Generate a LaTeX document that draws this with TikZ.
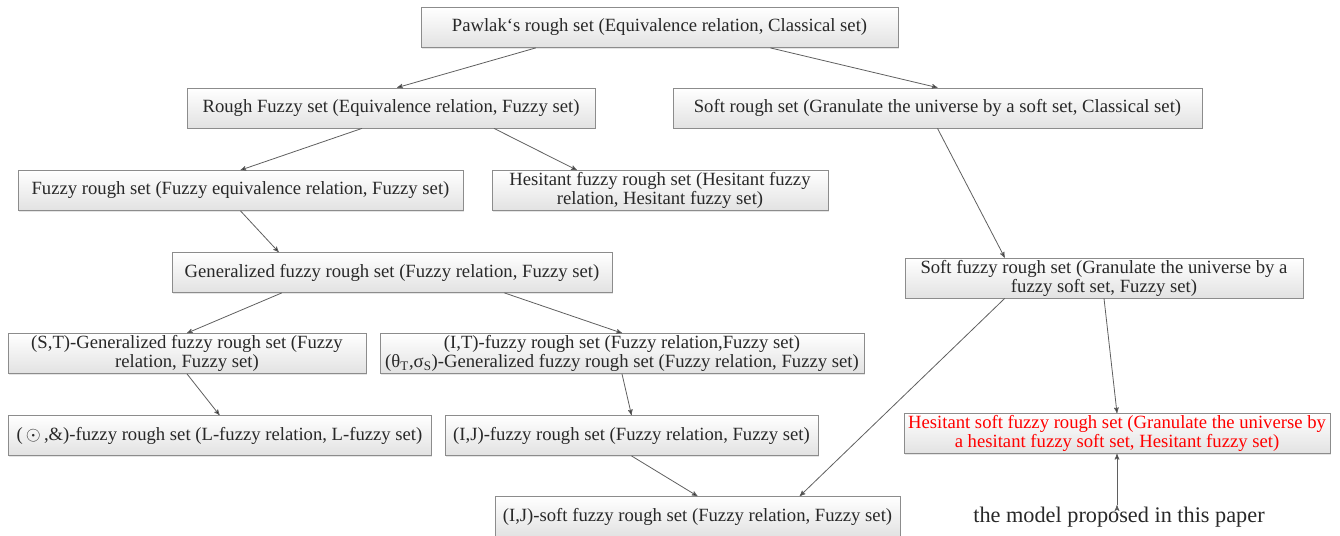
\documentclass[tikz,border=0pt]{standalone}
\usepackage{fontspec}
\setmainfont{Liberation Serif}
\usetikzlibrary{arrows,calc,shadows}
\definecolor{boxline}{RGB}{140,140,140}
\definecolor{boxfill}{RGB}{226,226,226}
\definecolor{edgeline}{RGB}{95,95,95}
\definecolor{txt}{RGB}{40,40,40}
\newlength\px
\setlength\px{0.75pt}
\begin{document}
\begin{tikzpicture}[x=0.75pt,y=-0.75pt,>=stealth',line width=0.6pt,
                    set box/.style={draw=boxline,top color=white,bottom color=boxfill,
                      text=txt,minimum height=40\px,inner sep=1pt,align=center,
                      font=\fontsize{14}{14.3}\selectfont,
                      drop shadow={shadow xshift=1pt,shadow yshift=-1pt,fill=black!10,opacity=1}}]
  \useasboundingbox (0,0) rectangle (1340,536);
  \node[set box,minimum width=477\px] (1) at (659.5,27.5) {Pawlak‘s rough set (Equivalence relation, Classical set)};
  \node[set box,minimum width=408\px] (2) at (391,108) {Rough Fuzzy set (Equivalence relation, Fuzzy set)};
  \node[set box,minimum width=529\px] (3) at (937.5,108) {Soft rough set (Granulate the universe by a soft set, Classical set)};
  \node[set box,minimum width=445\px] (4) at (240.5,190.5) {Fuzzy rough set (Fuzzy equivalence relation, Fuzzy set)};
  \node[set box,minimum width=336\px] (5) at (660,190.5) {Hesitant fuzzy rough set (Hesitant fuzzy\\ relation, Hesitant fuzzy set)};
  \node[set box,minimum width=440\px] (6) at (392,272.5) {Generalized fuzzy rough set (Fuzzy relation, Fuzzy set)};
  \node[set box,minimum width=398\px] (7) at (1104,278) {Soft fuzzy rough set (Granulate the universe by a\\ fuzzy soft set, Fuzzy set)};
  \node[set box,minimum width=358\px] (8) at (187,353.5) {(S,T)-Generalized fuzzy rough set (Fuzzy\\ relation, Fuzzy set)};
  \node[set box,minimum width=484\px] (9) at (622,353.5) {(I,T)-fuzzy rough set (Fuzzy relation,Fuzzy set)\\ (θ\textsubscript{T},σ\textsubscript{S})-Generalized fuzzy rough set (Fuzzy relation, Fuzzy set)};
  \node[set box,minimum width=423\px] (10) at (219.5,435.5) {(\,$\odot$\,,\&)-fuzzy rough set (L-fuzzy relation, L-fuzzy set)};
  \node[set box,minimum width=373\px] (11) at (631.5,435.5) {(I,J)-fuzzy rough set (Fuzzy relation, Fuzzy set)};
  \node[set box,minimum width=426\px,text=red] (12) at (1117,433.5) {Hesitant soft fuzzy rough set (Granulate the universe by\\ a hesitant fuzzy soft set, Hesitant fuzzy set)};
  \node[set box,minimum width=405\px] (13) at (697.5,516.5) {(I,J)-soft fuzzy rough set (Fuzzy relation, Fuzzy set)};
  \node[text=txt,font=\fontsize{16.7}{18}\selectfont,inner sep=1pt] (14) at (1119,517) {the model proposed in this paper};
  \path[draw=edgeline,->]
    ($(1.south west)!.241!(1.south east)$) edge ($(2.north west)!.515!(2.north east)$)
    ($(1.south west)!.732!(1.south east)$) edge (3.north)
    ($(2.south west)!.429!(2.south east)$) edge (4.north)
    ($(2.south west)!.752!(2.south east)$) edge ($(5.north west)!.253!(5.north east)$)
    (4.south) edge ($(6.north west)!.243!(6.north east)$)
    ($(6.south west)!.25!(6.south east)$) edge (8.north)
    ($(6.south west)!.755!(6.south east)$) edge (9.north)
    (3.south) edge ($(7.north west)!.251!(7.north east)$)
    (8.south) edge (10.north)
    (9.south) edge (11.north)
    ($(7.south west)!.251!(7.south east)$) edge ($(13.north west)!.752!(13.north east)$)
    (7.south) edge (12.north)
    (11.south) edge (13.north)
    (14.north -| 12.south) edge (12.south)
    ;
\end{tikzpicture}
\end{document}
